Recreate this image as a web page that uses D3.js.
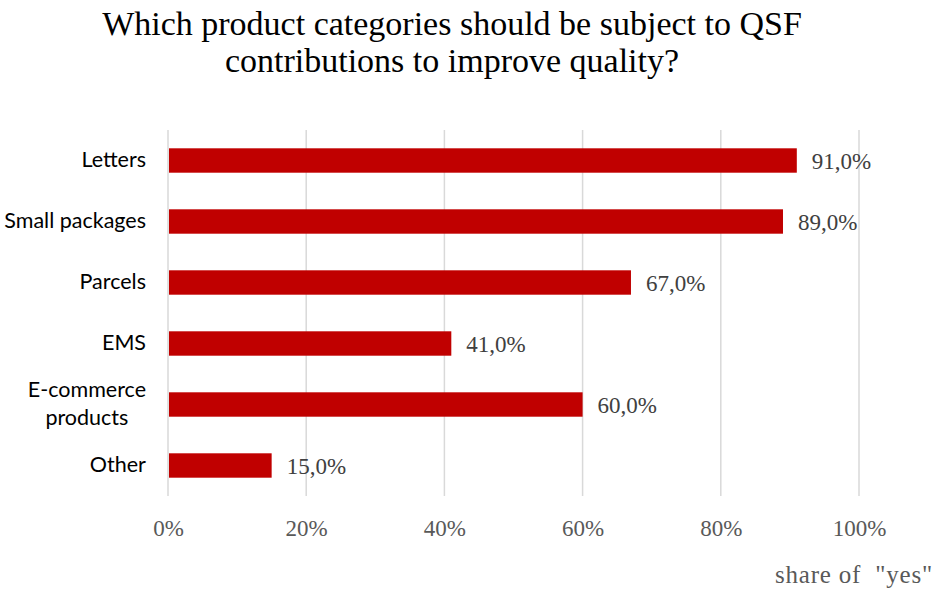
<!DOCTYPE html>
<html>
<head>
<meta charset="utf-8">
<script src="https://cdn.jsdelivr.net/npm/d3@7"></script>
<style>
  html, body { margin: 0; padding: 0; background: #fff; }
  svg { display: block; }
</style>
</head>
<body>
<svg id="chart" width="934" height="590"></svg>
<script>
// Survey results: share of "yes" answers per product category
const categories = ["Letters", "Small packages", "Parcels", "EMS", "E-commerce products", "Other"];
const categoryLines = [["Letters"], ["Small packages"], ["Parcels"], ["EMS"], ["E-commerce", "products"], ["Other"]];
const shareYes = [91.0, 89.0, 67.0, 41.0, 60.0, 15.0];
const tickValues = [0, 20, 40, 60, 80, 100];
const titleLines = ["Which product categories should be subject to QSF", "contributions to improve quality?"];
const axisTitle = 'share of  "yes"';

const svg = d3.select("#chart");
const margin = { left: 168, right: 75, top: 130, bottom: 94 };
const W = 934, H = 590;

const x = d3.scaleLinear().domain([0, 100]).range([margin.left, W - margin.right]);
const y = d3.scaleBand().domain(categories).range([margin.top, H - margin.bottom]).paddingInner(0.6).paddingOuter(0.3);

const serif = "'Liberation Serif', 'DejaVu Serif', serif";
const sans = "Lato, 'Open Sans', sans-serif";

// Title
svg.append("g").selectAll("text").data(titleLines).join("text")
  .attr("x", 452).attr("y", (d, i) => 35 + i * 37)
  .attr("text-anchor", "middle")
  .attr("font-family", serif).attr("font-size", 34).attr("fill", "#000")
  .text(d => d);

// Vertical gridlines
svg.append("g").selectAll("line").data(tickValues).join("line")
  .attr("x1", d => x(d)).attr("x2", d => x(d))
  .attr("y1", margin.top).attr("y2", H - margin.bottom)
  .attr("stroke", "#d9d9d9").attr("stroke-width", 1.5);

// Bars
svg.append("g").selectAll("rect").data(categories).join("rect")
  .attr("x", x(0) + 1)
  .attr("y", d => y(d))
  .attr("width", (d, i) => x(shareYes[i]) - x(0) - 1)
  .attr("height", y.bandwidth())
  .attr("fill", "#c00000");

// Value labels
svg.append("g").selectAll("text").data(categories).join("text")
  .attr("x", (d, i) => x(shareYes[i]) + 15)
  .attr("y", d => y(d) + y.bandwidth() / 2)
  .attr("dy", "0.35em")
  .attr("font-family", serif).attr("font-size", 23).attr("fill", "#404040")
  .text((d, i) => d3.format(".1f")(shareYes[i]).replace(".", ",") + "%");

// Category labels (multi-line labels centred within a right-aligned block)
const catG = svg.append("g");
categories.forEach((c, i) => {
  const lines = categoryLines[i];
  const cy = y(c) + y.bandwidth() / 2;
  const lh = 28;
  const t = catG.append("text")
    .attr("font-family", sans).attr("font-size", 21.5).attr("fill", "#000");
  lines.forEach((ln, j) => {
    t.append("tspan").attr("x", 0).attr("y", cy + (j - (lines.length - 1) / 2) * lh - 1)
      .attr("dy", "0.35em").attr("text-anchor", "middle").text(ln);
  });
  const bb = t.node().getBBox();
  t.attr("transform", `translate(${146 - bb.width / 2},0)`);
});

// X axis tick labels
const axis = d3.axisBottom(x).tickValues(tickValues).tickFormat(d => d + "%").tickSize(0).tickPadding(0);
const ax = svg.append("g").attr("transform", `translate(0, ${H - margin.bottom + 24})`).call(axis);
ax.select(".domain").remove();
ax.selectAll("text").attr("font-family", serif).attr("font-size", 23).attr("fill", "#595959");

// Axis title
svg.append("text")
  .attr("x", 933).attr("y", 583)
  .attr("text-anchor", "end")
  .attr("font-family", serif).attr("font-size", 25).attr("fill", "#595959")
  .attr("letter-spacing", 0.8)
  .attr("xml:space", "preserve")
  .style("white-space", "pre")
  .text(axisTitle);
</script>
</body>
</html>
